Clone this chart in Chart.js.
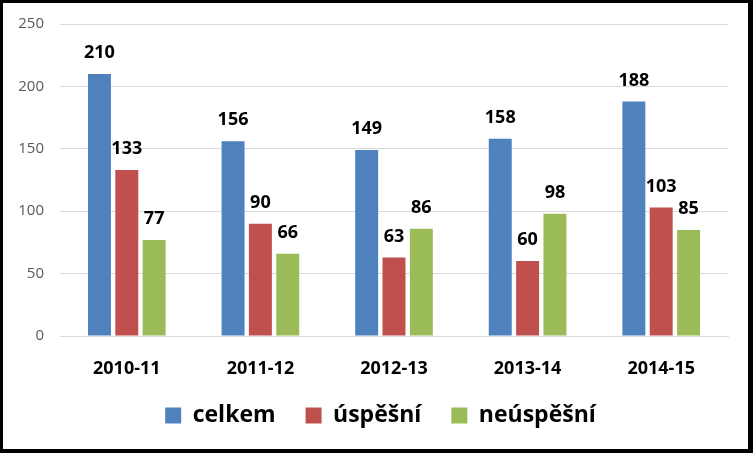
<!DOCTYPE html>
<html>
<head>
<meta charset="utf-8">
<script src="https://cdn.jsdelivr.net/npm/chart.js@4"></script>
<style>
  html, body { margin: 0; padding: 0; background: #fff; }
  #frame {
    width: 753px; height: 453px; box-sizing: border-box;
    border-style: solid; border-color: #000;
    border-width: 3px 5px 4px 3px;
    background: #fff; position: relative;
  }
  #wrap { position: absolute; left: 0; top: 0; width: 745px; height: 446px; }
</style>
</head>
<body>
<div id="frame"><div id="wrap"><canvas id="c" width="745" height="446"></canvas></div></div>
<script>
const categories = ['2010-11', '2011-12', '2012-13', '2013-14', '2014-15'];
const seriesNames = ['celkem', 'úspěšní', 'neúspěšní'];
const celkem = [210, 156, 149, 158, 188];
const uspesni = [133, 90, 63, 60, 103];
const neuspesni = [77, 66, 86, 98, 85];
const yTicks = [0, 50, 100, 150, 200, 250];
const colors = ['#4F81BD', '#C0504D', '#9BBB59'];
const FONT = "'Open Sans', 'Noto Sans', sans-serif";

const valueLabels = {
  id: 'valueLabels',
  afterDatasetsDraw(chart) {
    const ctx = chart.ctx;
    ctx.save();
    ctx.font = "bold 18px " + FONT;
    ctx.fillStyle = '#000';
    ctx.textAlign = 'center';
    ctx.textBaseline = 'middle';
    chart.data.datasets.forEach((ds, i) => {
      chart.getDatasetMeta(i).data.forEach((bar, j) => {
        ctx.fillText(String(ds.data[j]), bar.x, bar.y - 21);
      });
    });
    ctx.restore();
  }
};

const legendShift = {
  id: 'legendShift',
  afterLayout(chart) {
    if (chart.legend) { chart.legend.left += 15; chart.legend.right += 15; }
  }
};

new Chart(document.getElementById('c'), {
  type: 'bar',
  data: {
    labels: categories,
    datasets: [
      { label: seriesNames[0], data: celkem, backgroundColor: colors[0] },
      { label: seriesNames[1], data: uspesni, backgroundColor: colors[1] },
      { label: seriesNames[2], data: neuspesni, backgroundColor: colors[2] }
    ]
  },
  options: {
    responsive: false,
    animation: false,
    devicePixelRatio: 1,
    layout: { padding: { top: 21, right: 20, bottom: 12, left: 0 } },
    datasets: { bar: { categoryPercentage: 0.614, barPercentage: 0.84 } },
    plugins: {
      tooltip: { enabled: false },
      legend: {
        position: 'bottom',
        labels: {
          boxWidth: 16, boxHeight: 16, padding: 30,
          color: '#000',
          font: { family: FONT, size: 23, weight: 'bold' }
        }
      }
    },
    scales: {
      x: {
        grid: { display: false },
        border: { color: '#D9D9D9', width: 1 },
        ticks: { color: '#000', padding: 14, font: { family: FONT, size: 18, weight: 'bold' } },
        afterFit(s) { s.height = 38; }
      },
      y: {
        min: 0, max: 250,
        afterBuildTicks(s) { s.ticks = yTicks.map(v => ({ value: v })); },
        grid: { color: '#D9D9D9', drawTicks: false },
        border: { display: false },
        ticks: { color: '#595959', padding: 16, font: { family: FONT, size: 15 } },
        afterFit(s) { s.width = 57; s.paddingTop = 0; s.paddingBottom = 0; }
      }
    }
  },
  plugins: [valueLabels, legendShift]
});
</script>
</body>
</html>
